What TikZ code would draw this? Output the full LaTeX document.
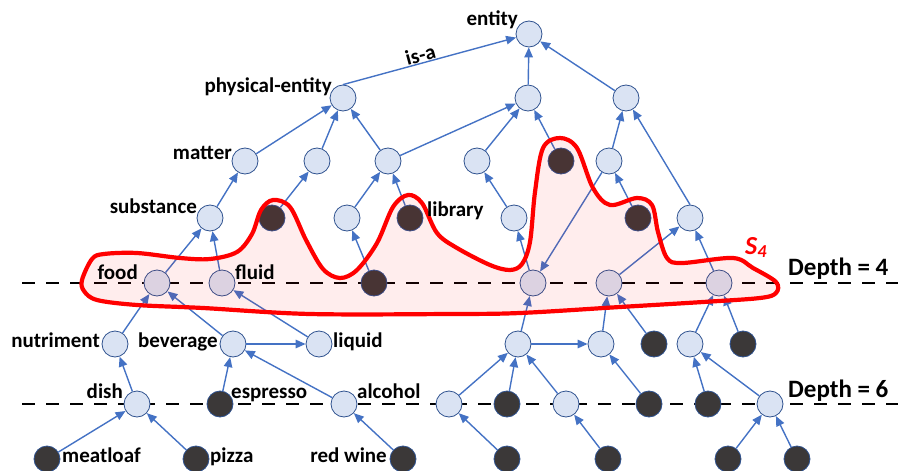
\documentclass[tikz,border=0pt]{standalone}
\usepackage{fontspec}
\setmainfont{Carlito}
\usetikzlibrary{arrows.meta}

\definecolor{nodeblue}{HTML}{DAE3F3}
\definecolor{nodeline}{HTML}{2F528F}
\definecolor{edgeblue}{HTML}{4472C4}
\definecolor{leafdark}{HTML}{3B3838}

\begin{document}
\begin{tikzpicture}[
    x=1pt, y=-1pt,
    % Concept node
    concept/.style={
        circle,
        draw=nodeline,
        line width=0.8pt,
        fill=nodeblue,
        minimum size=26pt,
        inner sep=0pt
    },
    % Dark concept node
    dark/.style={
        concept,
        fill=leafdark
    },
    % Word next to a node
    word/.style={
        font=\fontsize{21}{24}\selectfont\bfseries,
        text=black,
        inner sep=0pt
    },
    % is-a edge
    isa/.style={
        -{Triangle[length=10pt, width=8.5pt]},
        line width=1.4pt,
        edgeblue
    },
    % Depth marker
    depthline/.style={
        line width=2.8pt,
        dash pattern=on 13pt off 11pt
    },
    % Cut set S_4
    cutset/.style={
        draw=red,
        line width=4.2pt,
        fill=red,
        fill opacity=0.07
    }
]
\useasboundingbox (0,0) rectangle (898,471);

% === Depth lines ===
\coordinate (d4l) at (22,283);
\coordinate (d4r) at (898,283);
\coordinate (d6l) at (22,404);
\coordinate (d6r) at (898,404);
\draw[depthline] (d4l) -- (d4r);
\draw[depthline] (d6l) -- (d6r);

% === Level 0-1 ===
\node[concept] (entity) at (529,34) {};
\node[concept] (physent) at (343,98) {};
\node[concept] (u1b) at (528,98) {};
\node[concept] (u1c) at (626,98) {};

% === Level 2 ===
\node[concept] (matter) at (245,161) {};
\node[concept] (u2b) at (317,161) {};
\node[concept] (u2c) at (388,161) {};
\node[concept] (u2d) at (477,161) {};
\node[dark] (k2e) at (561,161) {};
\node[concept] (u2f) at (609,161) {};

% === Level 3 ===
\node[concept] (substance) at (210,218) {};
\node[dark] (k3b) at (272,218) {};
\node[concept] (u3c) at (347,218) {};
\node[dark] (library) at (410,218) {};
\node[concept] (u3e) at (514,218) {};
\node[dark] (k3f) at (638,218) {};
\node[concept] (u3g) at (690,218) {};

% === Level 4 ===
\node[concept] (food) at (157,283) {};
\node[concept] (fluid) at (222,283) {};
\node[dark] (k4c) at (374,283) {};
\node[concept] (u4d) at (533,283) {};
\node[concept] (u4e) at (609,283) {};
\node[concept] (u4f) at (719,283) {};

% === Level 5 ===
\node[concept] (nutriment) at (115,344) {};
\node[concept] (beverage) at (233,344) {};
\node[concept] (liquid) at (319,344) {};
\node[concept] (u5d) at (518,344) {};
\node[concept] (u5e) at (601,344) {};
\node[dark] (k5f) at (654,344) {};
\node[concept] (u5g) at (690,344) {};
\node[dark] (k5h) at (743,344) {};

% === Level 6 ===
\node[concept] (dish) at (137,404) {};
\node[dark] (espresso) at (220,404) {};
\node[concept] (alcohol) at (344,404) {};
\node[concept] (u6d) at (449,404) {};
\node[dark] (k6e) at (507,404) {};
\node[concept] (u6f) at (566,404) {};
\node[dark] (k6g) at (649,404) {};
\node[dark] (k6h) at (708,404) {};
\node[concept] (u6i) at (770,404) {};

% === Level 7 ===
\node[dark] (meatloaf) at (47,459) {};
\node[dark] (pizza) at (196,459) {};
\node[dark] (redwine) at (403,459) {};
\node[dark] (k7d) at (507,459) {};
\node[dark] (k7e) at (608,459) {};
\node[dark] (k7f) at (728,459) {};
\node[dark] (k7g) at (797,459) {};

% === is-a edges ===
\draw[isa] (physent.north) -- (entity)
    node[word, sloped, anchor=base, pos=0.46, yshift=1pt] (isa-t) {is-a};
\draw[isa] (u1b) -- (entity);
\draw[isa] (u1c) -- (entity);

\draw[isa] (matter) -- (physent);
\draw[isa] (u2b) -- (physent);
\draw[isa] (u2c) -- (physent);
\draw[isa] (u2c) -- (u1b);
\draw[isa] (u2d) -- (u1b);
\draw[isa] (k2e) -- (u1b);
\draw[isa] (u2f) -- (u1c);
\draw[isa] (u3g.north) -- (u1c);

\draw[isa] (substance) -- (matter);
\draw[isa] (k3b) -- (u2b);
\draw[isa] (u3c) -- (u2c);
\draw[isa] (library) -- (u2c);
\draw[isa] (u3e) -- (u2d);
\draw[isa] (k3f) -- (u2f);

\draw[isa] (food) -- (substance);
\draw[isa] (fluid) -- (substance);
\draw[isa] (k4c) -- (u3c);
\draw[isa] (u4d) -- (u3e);
\draw[isa] (u2f) -- (u4d);
\draw[isa] (u4e) -- (u3g);
\draw[isa] (u4f) -- (u3g);

\draw[isa] (nutriment) -- (food);
\draw[isa] (beverage) -- (food);
\draw[isa] (beverage) -- (liquid);
\draw[isa] (liquid) -- (fluid);
\draw[isa] (u5d) -- (u4d);
\draw[isa] (u5d) -- (u5e);
\draw[isa] (u5e) -- (u4e);
\draw[isa] (k5f) -- (u4e);
\draw[isa] (u5g) -- (u4f);
\draw[isa] (k5h) -- (u4f);

\draw[isa] (dish) -- (nutriment);
\draw[isa] (espresso) -- (beverage);
\draw[isa] (alcohol) -- (beverage);
\draw[isa] (u6d) -- (u5d);
\draw[isa] (k6e) -- (u5d);
\draw[isa] (u6f) -- (u5d);
\draw[isa] (k6g) -- (u5e);
\draw[isa] (k6h) -- (u5g);
\draw[isa] (u6i) -- (u5g);

\draw[isa] (meatloaf) -- (dish);
\draw[isa] (pizza) -- (dish);
\draw[isa] (redwine) -- (alcohol);
\draw[isa] (k7d) -- (u6d);
\draw[isa] (k7e) -- (u6f);
\draw[isa] (k7f) -- (u6i);
\draw[isa] (k7g) -- (u6i);

% === Cut set S_4 ===
\draw[cutset] plot[smooth cycle, tension=0.55] coordinates {
    (82,280) (92,259) (104,254) (137,253) (180,258) (210,259) (237,252)
    (252,234) (261,210) (273,200) (290,207) (306,240) (323,269) (340,278)
    (357,270) (377,243) (393,207) (408,195) (422,203) (437,233) (457,248)
    (490,265) (510,270) (522,264) (530,242) (535,192) (543,148) (560,138)
    (577,148) (593,188) (610,205) (637,198) (652,205) (658,232) (667,258)
    (682,263) (733,258) (753,268) (776,282) (776,293) (760,298) (703,302)
    (620,307) (520,313) (450,314) (310,314) (203,308) (137,305) (97,300)
    (84,291)
};
\node[font=\fontsize{26}{28}\selectfont\bfseries\itshape, text=red, anchor=base west, inner sep=0pt]
    (s4-t) at (745,254) {S\textsubscript{4}};

% === Words ===
\node[word, anchor=base east] (entity-t) at (518,26) {entity};
\node[word, anchor=base east] (physent-t) at (332,92) {physical-entity};
\node[word, anchor=base east] (matter-t) at (232,159) {matter};
\node[word, anchor=base east] (substance-t) at (197,213) {substance};
\node[word, anchor=base west] (library-t) at (427,216) {library};
\node[word, anchor=base east] (food-t) at (138,279) {food};
\node[word, anchor=base west] (fluid-t) at (235,279) {fluid};
\node[word, anchor=base east] (nutriment-t) at (100,347) {nutriment};
\node[word, anchor=base east] (beverage-t) at (218,347) {beverage};
\node[word, anchor=base west] (liquid-t) at (333,347) {liquid};
\node[word, anchor=base east] (dish-t) at (123,398) {dish};
\node[word, anchor=base west] (espresso-t) at (231,398) {espresso};
\node[word, anchor=base west] (alcohol-t) at (357,398) {alcohol};
\node[word, anchor=base west] (meatloaf-t) at (62,462) {meatloaf};
\node[word, anchor=base west] (pizza-t) at (210,462) {pizza};
\node[word, anchor=base east] (redwine-t) at (387,462) {red wine};

% === Depth labels ===
\node[word, font=\fontsize{25}{28}\selectfont\bfseries, anchor=base west] (d4-t) at (788,275) {Depth = 4};
\node[word, font=\fontsize{25}{28}\selectfont\bfseries, anchor=base west] (d6-t) at (788,397) {Depth = 6};

\end{tikzpicture}
\end{document}
